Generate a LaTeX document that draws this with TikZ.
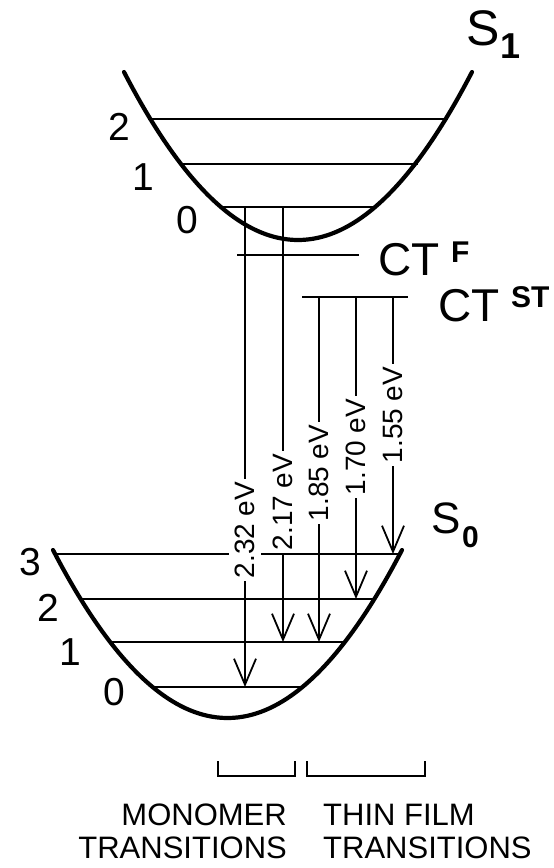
\documentclass[tikz,border=0pt]{standalone}
\usepackage{fontspec}
\setmainfont{Liberation Sans}
\usetikzlibrary{arrows.meta}
\begin{document}
\begin{tikzpicture}[x=1pt,y=-1pt,
  level/.style={line width=1.8pt},
  well/.style={line width=4.2pt,line cap=round},
  trans/.style={line width=1.8pt,-{Straight Barb[length=26pt,width=22pt]}},
  evlabel/.style={rotate=90,fill=white,inner xsep=2.5pt,inner ysep=6pt,font=\fontsize{28}{28}\selectfont},
  lvnum/.style={inner sep=0pt,font=\fontsize{39}{39}\selectfont},
  big/.style={inner sep=0pt,anchor=base west,font=\fontsize{44}{44}\selectfont},
  sub/.style={inner sep=0pt,anchor=base west,font=\fontsize{30}{30}\selectfont\bfseries},
  caption/.style={inner sep=0pt,font=\fontsize{31}{31}\selectfont},
  bracket/.style={line width=1.8pt}]
\useasboundingbox (0,0) rectangle (554,868);
% potential wells
\draw[well] plot[domain=-174:174,samples=80] ({298+\x},{240-168*(\x/174)*(\x/174)});
\draw[well] plot[domain=-174.5:174.5,samples=80] ({227.5+\x},{718-168*(\x/174.5)*(\x/174.5)});
% S1 levels
\coordinate (u2a) at (148,119); \coordinate (u2b) at (448,119);
\coordinate (u1a) at (179,164); \coordinate (u1b) at (418,164);
\coordinate (u0a) at (221,207); \coordinate (u0b) at (377,207);
\draw[level] (u2a) -- (u2b);
\draw[level] (u1a) -- (u1b);
\draw[level] (u0a) -- (u0b);
% S0 levels
\coordinate (g3a) at (56,554); \coordinate (g3b) at (400,554);
\coordinate (g2a) at (79,599); \coordinate (g2b) at (376,599);
\coordinate (g1a) at (108,642); \coordinate (g1b) at (347,642);
\coordinate (g0a) at (152,687); \coordinate (g0b) at (303,687);
\draw[level] (g3a) -- (g3b);
\draw[level] (g2a) -- (g2b);
\draw[level] (g1a) -- (g1b);
\draw[level] (g0a) -- (g0b);
% CT levels
\coordinate (cfa) at (237,255); \coordinate (cfb) at (359,255);
\coordinate (csa) at (302,297); \coordinate (csb) at (408,297);
\draw[level] (cfa) -- (cfb);
\draw[level] (csa) -- (csb);
% transitions
\coordinate (t1s) at (245,207); \coordinate (t1e) at (245,687);
\coordinate (t2s) at (283,207); \coordinate (t2e) at (283,642);
\coordinate (t3s) at (319,297); \coordinate (t3e) at (319,642);
\coordinate (t4s) at (356,297); \coordinate (t4e) at (356,599);
\coordinate (t5s) at (393,297); \coordinate (t5e) at (393,554);
\draw[trans] (t1s) -- (t1e);
\draw[trans] (t2s) -- (t2e);
\draw[trans] (t3s) -- (t3e);
\draw[trans] (t4s) -- (t4e);
\draw[trans] (t5s) -- (t5e);
\node[evlabel] (e1) at (245,530) {2.32 eV};
\node[evlabel] (e2) at (283,502) {2.17 eV};
\node[evlabel] (e3) at (319,473) {1.85 eV};
\node[evlabel] (e4) at (356,447) {1.70 eV};
\node[evlabel] (e5) at (393,415) {1.55 eV};
% level numbers
\node[lvnum] (n12) at (119,127) {2};
\node[lvnum] (n11) at (143,177) {1};
\node[lvnum] (n10) at (187,220) {0};
\node[lvnum] (n03) at (30,562) {3};
\node[lvnum] (n02) at (48,608) {2};
\node[lvnum] (n01) at (70,652) {1};
\node[lvnum] (n00) at (114,692) {0};
% state labels
\node[big,font=\fontsize{50}{50}\selectfont] (s1) at (466,45) {S};
\node[sub,font=\fontsize{36}{36}\selectfont\bfseries] (s1i) at (500,58) {1};
\node[big] (s0) at (431,533) {S};
\node[sub] (s0i) at (462,547) {0};
\node[big,font=\fontsize{46}{46}\selectfont] (ctf) at (378,275) {CT};
\node[sub] (ctfi) at (451,262) {F};
\node[big,font=\fontsize{46}{46}\selectfont] (cts) at (438,321) {CT};
\node[sub] (ctsi) at (511,307) {ST};
% brackets
\coordinate (b1a) at (218,761); \coordinate (b1b) at (295,761);
\coordinate (b2a) at (307,761); \coordinate (b2b) at (425,761);
\draw[bracket] (b1a) -- ++(0,15) -| (b1b);
\draw[bracket] (b2a) -- ++(0,15) -| (b2b);
% captions
\node[caption,anchor=base east] (m1) at (287,825) {MONOMER};
\node[caption,anchor=base east] (m2) at (287,858) {TRANSITIONS};
\node[caption,anchor=base west] (f1) at (323,825) {THIN FILM};
\node[caption,anchor=base west] (f2) at (323,858) {TRANSITIONS};
\end{tikzpicture}
\end{document}
